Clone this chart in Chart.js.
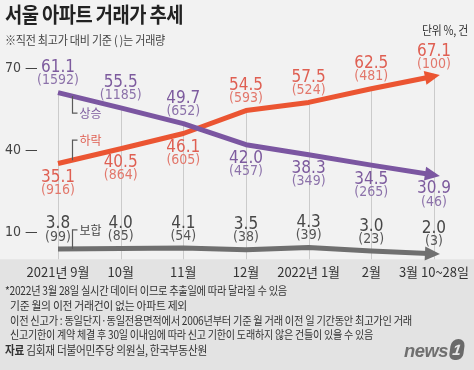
<!DOCTYPE html>
<html><head><meta charset="utf-8">
<script src="https://cdn.jsdelivr.net/npm/chart.js@4"></script>
<style>
html,body{margin:0;padding:0;}
body{width:474px;height:370px;position:relative;overflow:hidden;background:#f2f2f2;font-family:'Noto Sans CJK KR',sans-serif;}
#wrap{position:absolute;left:0;top:0;width:474px;height:370px;}
.t{position:absolute;white-space:nowrap;line-height:1;transform-origin:0 50%;}
.n{font-size:11.8px;color:#333;letter-spacing:-0.3px;}
</style></head><body>
<div id="wrap"><canvas id="c" width="474" height="370"></canvas></div>
<div class="t" data-w="178" style="left:5px;top:3px;font-size:21px;font-weight:700;color:#222;letter-spacing:-0.6px;">서울 아파트 거래가 추세</div>
<div class="t" data-w="160" style="left:5px;top:34px;font-size:12px;color:#444;letter-spacing:-0.3px;">※직전 최고가 대비 기준 ( )는 거래량</div>
<div class="t" data-w="46" style="left:422px;top:24px;font-size:12.5px;color:#333;letter-spacing:-0.3px;">단위 %, 건</div>
<div class="t n" data-w="282" style="left:5px;top:284px;">*2022년 3월 28일 실시간 데이터 이므로 추출일에 따라 달라질 수 있음</div>
<div class="t n" data-w="177" style="left:10px;top:299px;">기준 월의 이전 거래건이 없는 아파트 제외</div>
<div class="t n" data-w="402" style="left:10px;top:314px;">이전 신고가 : 동일단지·동일전용면적에서 2006년부터 기준 월 거래 이전 일 기간동안 최고가인 거래</div>
<div class="t n" data-w="363" style="left:10px;top:328px;">신고기한이 계약 체결 후 30일 이내임에 따라 신고 기한이 도래하지 않은 건들이 있을 수 있음</div>
<div class="t n" data-w="202" style="left:5px;top:344px;font-size:12px;"><b>자료</b> 김회재 더불어민주당 의원실, 한국부동산원</div>
<div class="t" data-w="44" style="left:404px;top:342px;font-size:18px;font-weight:700;font-style:italic;color:#6f6f6f;font-family:'Liberation Sans',sans-serif;letter-spacing:-0.5px;">news</div>
<div class="t" style="left:450px;top:339px;width:14px;height:21px;border-radius:8px 8px 7px 7px;background:#6a6a6a;color:#e8e8e8;font-size:15px;font-weight:700;font-style:italic;text-align:center;line-height:21px;font-family:'Liberation Sans',sans-serif;transform:skewX(-8deg);">1</div>
<script>
const categories = ['2021년 9월','10월','11월','12월','2022년 1월','2월','3월 10~28일'];
const riseValues = [61.1,55.5,49.7,42.0,38.3,34.5,30.9];
const riseCounts = [1592,1185,652,457,349,265,46];
const fallValues = [35.1,40.5,46.1,54.5,57.5,62.5,67.1];
const fallCounts = [916,864,605,593,524,481,100];
const flatValues = [3.8,4.0,4.1,3.5,4.3,3.0,2.0];
const flatCounts = [99,85,54,38,39,23,3];
const seriesNames = ['상승','하락','보합'];
const yTicks = [10,40,70];

document.querySelectorAll('[data-w]').forEach(el=>{
  const w=el.getBoundingClientRect().width;
  const target=parseFloat(el.dataset.w);
  if(w>0) el.style.transform='scaleX('+(target/w).toFixed(4)+')';
});

const NUMFONT = "'Liberation Sans Narrow','DejaVu Sans Condensed','Roboto',sans-serif";
const lineColors = ['#7b56a1','#eb5532','#6f6f6f'];
const numColors = ['#7d5b9e','#df5f52','#474747'];
const cntColors = ['#8c72aa','#e2776b','#555555'];

const bgPlugin = {
  id:'bg',
  beforeDraw(chart){
    const {ctx, chartArea} = chart;
    ctx.save();
    ctx.fillStyle='#f2f2f2';
    ctx.fillRect(0,0,chart.width,chart.height);
    ctx.fillStyle='#e3e3e3';
    ctx.fillRect(0,chartArea.bottom,chart.width,chart.height-chartArea.bottom);
    ctx.restore();
  },
  beforeDatasetsDraw(chart){
    const {ctx, chartArea} = chart;
    const metas=[0,1,2].map(i=>chart.getDatasetMeta(i));
    ctx.save();
    ctx.strokeStyle='#cbcbcb';
    ctx.lineWidth=1;
    categories.forEach((c,i)=>{
      const top=Math.min(...metas.map(m=>m.data[i].y));
      const x=Math.round(metas[0].data[i].x)+0.5;
      ctx.beginPath();ctx.moveTo(x,top);ctx.lineTo(x,chartArea.bottom);ctx.stroke();
    });
    ctx.restore();
  }
};

const decoPlugin = {
  id:'deco',
  afterDatasetsDraw(chart){
    const ctx=chart.ctx;
    const metas=[0,1,2].map(i=>chart.getDatasetMeta(i));
    ctx.save();
    metas.forEach((m,k)=>{
      const n=m.data.length;
      const a=m.data[n-2], b=m.data[n-1];
      const ang=Math.atan2(b.y-a.y,b.x-a.x);
      const tipX=b.x+6*Math.cos(ang), tipY=b.y+6*Math.sin(ang);
      const L=15, W=7;
      const bx=tipX-L*Math.cos(ang), by=tipY-L*Math.sin(ang);
      ctx.fillStyle=lineColors[k];
      ctx.beginPath();
      ctx.moveTo(tipX,tipY);
      ctx.lineTo(bx+W*Math.sin(ang),by-W*Math.cos(ang));
      ctx.lineTo(bx-W*Math.sin(ang),by+W*Math.cos(ang));
      ctx.closePath();ctx.fill();
    });
    const frac=0.23;
    const offs=[17,-20,-19];
    metas.forEach((m,k)=>{
      const p0=m.data[0], p1=m.data[1];
      const x=Math.round(p0.x+frac*(p1.x-p0.x))+0.5;
      const y=p0.y+frac*(p1.y-p0.y);
      const y2=y+offs[k];
      ctx.strokeStyle='#5a5a5a';ctx.lineWidth=1.2;
      ctx.beginPath();ctx.moveTo(x,y);ctx.lineTo(x,y2);ctx.lineTo(x+5,y2);ctx.stroke();
      ctx.fillStyle=numColors[k];
      ctx.font="12px 'Noto Sans CJK KR',sans-serif";
      ctx.textAlign='left';ctx.textBaseline='middle';
      ctx.fillText(seriesNames[k],x+7,y2+0.5);
    });
    const vals=[riseValues,fallValues,flatValues];
    const cnts=[riseCounts,fallCounts,flatCounts];
    ctx.textAlign='center';ctx.textBaseline='middle';
    metas.forEach((m,k)=>{
      m.data.forEach((pt,i)=>{
        let above;
        if(k===0) above = riseValues[i]>fallValues[i];
        else if(k===1) above = fallValues[i]>riseValues[i];
        else above = true;
        const ny = above ? pt.y-25 : pt.y+14;
        const cy = above ? pt.y-12 : pt.y+27;
        ctx.fillStyle=numColors[k];
        ctx.font="17px "+NUMFONT;
        ctx.fillText(vals[k][i].toFixed(1),pt.x,ny);
        ctx.fillStyle=cntColors[k];
        ctx.font="14px "+NUMFONT;
        ctx.fillText('('+cnts[k][i]+')',pt.x,cy);
      });
    });
    ctx.restore();
  }
};

const mk=(label,data,k)=>({label,data,borderColor:lineColors[k],backgroundColor:lineColors[k],borderWidth:5,pointRadius:0,pointHoverRadius:0,tension:0,fill:false,borderCapStyle:'butt',borderJoinStyle:'round'});

new Chart(document.getElementById('c'),{
  type:'line',
  data:{labels:categories,datasets:[mk(seriesNames[0],riseValues,0),mk(seriesNames[1],fallValues,1),mk(seriesNames[2],flatValues,2)]},
  options:{
    responsive:false,animation:false,devicePixelRatio:1,
    layout:{padding:{left:5,right:31,top:41,bottom:0}},
    plugins:{legend:{display:false},tooltip:{enabled:false}},
    scales:{
      x:{type:'category',offset:false,grid:{display:false,drawTicks:false},border:{display:false},
        ticks:{autoSkip:false,maxRotation:0,padding:5,color:'#333',font:{family:"'Liberation Sans Narrow','Noto Sans CJK KR',sans-serif",size:13}},
        afterFit(s){s.height=110.7;}},
      y:{min:0,max:80,grid:{display:false,drawTicks:false},border:{display:false},
        afterBuildTicks(s){s.ticks=yTicks.map(v=>({value:v}));},
        afterFit(s){s.width=53;},
        ticks:{crossAlign:'far',padding:0,color:'#444',font:{family:NUMFONT,size:14},callback:v=>v+' —'}}
    }
  },
  plugins:[bgPlugin,decoPlugin]
});
</script>
</body></html>
